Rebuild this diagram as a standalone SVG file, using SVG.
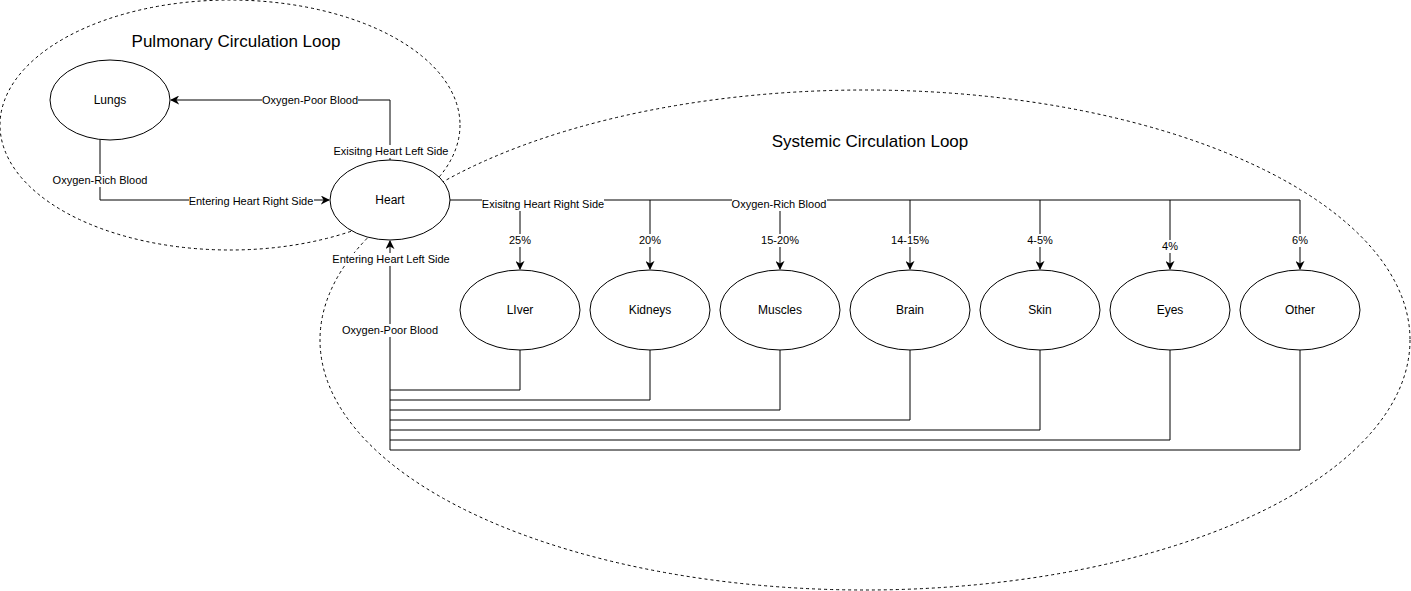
<svg xmlns="http://www.w3.org/2000/svg" width="1411" height="591" viewBox="0 0 1411 591">
<style>
.loop{fill:none;stroke:#000;stroke-width:1;stroke-dasharray:3 3}
.node ellipse{fill:#fff;stroke:#000;stroke-width:1}
.node text{font-family:"Liberation Sans",Arial,sans-serif;font-size:12px;fill:#000;text-anchor:middle;dominant-baseline:central}
.title{font-family:"Liberation Sans",Arial,sans-serif;font-size:17px;fill:#000;text-anchor:middle;dominant-baseline:central}
.edge{fill:none;stroke:#000;stroke-width:1}
.lbl rect{fill:#fff}
.lbl text{font-family:"Liberation Sans",Arial,sans-serif;font-size:11px;fill:#000;text-anchor:middle;dominant-baseline:central}
</style>
<defs>
<marker id="arr" viewBox="0 0 10 10" refX="9" refY="5" markerWidth="9" markerHeight="9" markerUnits="userSpaceOnUse" orient="auto">
<path d="M0,0 L10,5 L0,10 L3,5 Z" fill="#000"/>
</marker>
</defs>
<rect width="1411" height="591" fill="#fff"/>
<g id="pulmonary-loop">
<ellipse class="loop" cx="230" cy="125" rx="230" ry="125"/>
<text class="title" x="236" y="41">Pulmonary Circulation Loop</text>
</g>
<g id="systemic-loop">
<ellipse class="loop" cx="865" cy="340" rx="545" ry="250"/>
<text class="title" x="870" y="141">Systemic Circulation Loop</text>
</g>
<g id="connectors">
<path class="edge" d="M390,160 V100 H171" marker-end="url(#arr)"/>
<path class="edge" d="M100,140 V200 H329" marker-end="url(#arr)"/>
<path class="edge" d="M450,200 H1300"/>
<path class="edge" d="M520,200 V269" marker-end="url(#arr)"/>
<path class="edge" d="M650,200 V269" marker-end="url(#arr)"/>
<path class="edge" d="M780,200 V269" marker-end="url(#arr)"/>
<path class="edge" d="M910,200 V269" marker-end="url(#arr)"/>
<path class="edge" d="M1040,200 V269" marker-end="url(#arr)"/>
<path class="edge" d="M1170,200 V269" marker-end="url(#arr)"/>
<path class="edge" d="M1300,200 V269" marker-end="url(#arr)"/>
<path class="edge" d="M520,350 V390 H390"/>
<path class="edge" d="M650,350 V400 H390"/>
<path class="edge" d="M780,350 V410 H390"/>
<path class="edge" d="M910,350 V420 H390"/>
<path class="edge" d="M1040,350 V430 H390"/>
<path class="edge" d="M1170,350 V440 H390"/>
<path class="edge" d="M1300,350 V450 H390 V241" marker-end="url(#arr)"/>
<g class="lbl">
<rect x="262" y="94" width="96" height="13"/><text x="310" y="100">Oxygen-Poor Blood</text>
<rect x="333" y="145" width="116" height="13"/><text x="391" y="151">Exisitng Heart Left Side</text>
<rect x="53" y="174" width="95" height="13"/><text x="100" y="180">Oxygen-Rich Blood</text>
<rect x="189" y="195" width="125" height="13"/><text x="251" y="201">Entering Heart Right Side</text>
<rect x="482" y="198" width="122" height="13"/><text x="543" y="204">Exisitng Heart Right Side</text>
<rect x="732" y="198" width="95" height="13"/><text x="779" y="204">Oxygen-Rich Blood</text>
<rect x="508" y="234" width="24" height="13"/><text x="520" y="240">25%</text>
<rect x="638" y="234" width="24" height="13"/><text x="650" y="240">20%</text>
<rect x="761" y="234" width="38" height="13"/><text x="780" y="240">15-20%</text>
<rect x="891" y="234" width="38" height="13"/><text x="910" y="240">14-15%</text>
<rect x="1027" y="234" width="26" height="13"/><text x="1040" y="240">4-5%</text>
<rect x="1162" y="240" width="16" height="13"/><text x="1170" y="246">4%</text>
<rect x="1292" y="234" width="16" height="13"/><text x="1300" y="240">6%</text>
<rect x="333" y="253" width="117" height="13"/><text x="391" y="259">Entering Heart Left Side</text>
<rect x="342" y="324" width="96" height="13"/><text x="390" y="330">Oxygen-Poor Blood</text>
</g>
</g>
<g id="lungs" class="node"><ellipse cx="110" cy="100" rx="60" ry="40"/><text x="110" y="100">Lungs</text></g>
<g id="heart" class="node"><ellipse cx="390" cy="200" rx="60" ry="40"/><text x="390" y="200">Heart</text></g>
<g id="liver" class="node"><ellipse cx="520" cy="310" rx="60" ry="40"/><text x="520" y="310">LIver</text></g>
<g id="kidneys" class="node"><ellipse cx="650" cy="310" rx="60" ry="40"/><text x="650" y="310">Kidneys</text></g>
<g id="muscles" class="node"><ellipse cx="780" cy="310" rx="60" ry="40"/><text x="780" y="310">Muscles</text></g>
<g id="brain" class="node"><ellipse cx="910" cy="310" rx="60" ry="40"/><text x="910" y="310">Brain</text></g>
<g id="skin" class="node"><ellipse cx="1040" cy="310" rx="60" ry="40"/><text x="1040" y="310">Skin</text></g>
<g id="eyes" class="node"><ellipse cx="1170" cy="310" rx="60" ry="40"/><text x="1170" y="310">Eyes</text></g>
<g id="other" class="node"><ellipse cx="1300" cy="310" rx="60" ry="40"/><text x="1300" y="310">Other</text></g>
</svg>
